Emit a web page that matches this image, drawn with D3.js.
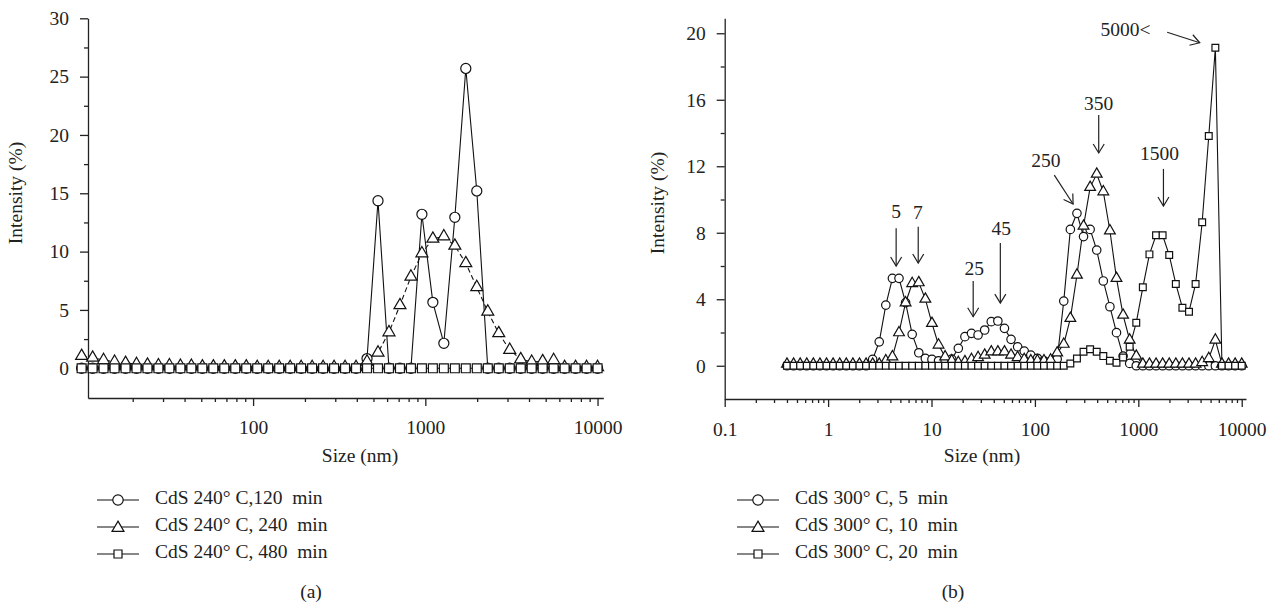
<!DOCTYPE html>
<html><head><meta charset="utf-8">
<script src="https://cdn.jsdelivr.net/npm/d3@7"></script>
<style>
body{margin:0;background:#fff}
svg{display:block}
text{font-family:"Liberation Serif","Times New Roman",serif;fill:#222}
</style>
</head><body>
<svg id="c" width="1269" height="604"></svg>
<script>
// ---- data ----
const sizesNm = [0.4, 0.4632, 0.5365, 0.6213, 0.7195, 0.8332, 0.9649, 1.117, 1.294, 1.499,
  1.736, 2.010, 2.328, 2.696, 3.122, 3.615, 4.187, 4.849, 5.615, 6.503,
  7.531, 8.721, 10.10, 11.70, 13.54, 15.69, 18.17, 21.04, 24.36, 28.21,
  32.67, 37.84, 43.82, 50.75, 58.77, 68.06, 78.82, 91.28, 105.7, 122.4,
  141.8, 164.2, 190.1, 220.2, 255.0, 295.3, 342.0, 396.1, 458.7, 531.2,
  615.1, 712.4, 825.0, 955.4, 1106, 1281, 1484, 1718, 1990, 2305,
  2669, 3091, 3580, 4145, 4801, 5560, 6439, 7456, 8635, 10000];

// panel (a): sizes from 10.1 nm upward
const sizesA = sizesNm.slice(22);
const a120 = [0,0,0,0,0,0,0,0,0,0, 0,0,0,0,0,0,0,0,0,0, 0,0,0,0,0,0,
  0.83,14.36,0,0,0,13.2,5.65,2.14,12.94,25.7,15.2,
  0,0,0,0,0,0,0,0,0,0,0];
const a240 = [1.05,0.9,0.7,0.55,0.45,0.35,0.3,0.25,0.25,0.2,0.2,0.15,0.15,0.15,0.15,0.15,
  0.1,0.1,0.1,0.1,0.1,0.1,0.1,0.1,0.1,0.1,
  0.57,1.34,3.08,5.4,7.85,9.85,11.1,11.3,10.5,9.0,6.95,4.85,3.0,1.57,0.77,0.55,0.6,0.7,
  0.1,0.1,0.1,0.1];
const a480 = [0,0,0,0,0,0,0,0,0,0, 0,0,0,0,0,0,0,0,0,0, 0,0,0,0,0,0,0,0,0,0,
  0,0,0,0,0,0,0,0,0,0, 0,0,0,0,0,0,0,0];

// panel (b)
const b5 = [0,0,0,0,0,0,0,0,0,0,0,0,0,
  0.38,1.44,3.65,5.26,5.26,3.8,1.89,0.78,0.44,0.38,0.3,0.3,0.4,1.05,1.75,1.95,1.85,2.15,
  2.65,2.69,2.25,1.59,1.14,0.88,0.64,0.45,0.3,0.25,0.4,3.89,8.2,9.17,7.77,8.2,6.96,5.1,
  3.55,1.99,0.58,0.14,
  0,0,0,0,0,0,0,0,0,0,0,0,0,0,0,0,0];
const b10 = [0.1,0.1,0.1,0.1,0.1,0.1,0.1,0.1,0.1,0.1,0.1,0.1,0.1,0.1,0.1,
  0.3,0.54,1.99,3.79,4.95,5.0,4.01,2.55,1.25,0.54,0.3,0.2,0.25,0.38,0.5,0.64,0.84,0.84,
  0.84,0.64,0.5,0.38,0.3,0.3,0.3,0.35,0.78,1.3,2.85,5.46,8.4,10.73,11.53,10.47,8.12,5.26,
  3.05,1.55,0.58,
  0.1,0.1,0.1,0.1,0.1,0.1,0.1,0.1,0.1,0.2,0.44,1.55,0.1,0.1,0.1,0.1];
const b20 = [0,0,0,0,0,0,0,0,0,0, 0,0,0,0,0,0,0,0,0,0, 0,0,0,0,0,0,0,0,0,0,
  0,0,0,0,0,0,0,0,0,0, 0,0,0,
  0.14,0.44,0.84,0.99,0.84,0.58,0.3,0.18,0.5,1.14,2.59,4.72,6.7,7.85,7.85,6.66,4.92,3.49,
  3.25,4.92,8.63,13.82,19.13,0,0,0,0];

const legendA = ["CdS 240° C,120  min", "CdS 240° C, 240  min", "CdS 240° C, 480  min"];
const legendB = ["CdS 300° C, 5  min", "CdS 300° C, 10  min", "CdS 300° C, 20  min"];

const ticksXA = [100, 1000, 10000];
const ticksXB = [0.1, 1, 10, 100, 1000, 10000];
const ticksYA = [0, 5, 10, 15, 20, 25, 30];
const ticksYB = [0, 4, 8, 12, 16, 20];

// annotations in data units: label, text(size,value), arrow from (size,value) to (size,value)
const notes = [
  {t:"5",    tx:4.55, ty:9.17, x1:4.55, y1:8.27, x2:4.55, y2:6.0},
  {t:"7",    tx:7.38, ty:9.07, x1:7.44, y1:8.36, x2:7.44, y2:6.18},
  {t:"25",   tx:25.9, ty:5.72, x1:25.3, y1:5.10, x2:25.3, y2:2.95},
  {t:"45",   tx:47.3, ty:8.16, x1:46.3, y1:7.38, x2:46.3, y2:3.77},
  {t:"250",  tx:128,  ty:12.21, x1:154, y1:11.47, x2:234, y2:9.73},
  {t:"350",  tx:414,  ty:15.63, x1:414, y1:15.08, x2:414, y2:12.8},
  {t:"1500", tx:1600, ty:12.62, x1:1750, y1:11.84, x2:1750, y2:9.61},
  {t:"5000<",tx:430,  ty:20.1, x1:1901, y1:20.06, x2:3926, y2:19.43}
];

// ---- drawing ----
const FS = 19.5;
const svg = d3.select("#c");
const defs = svg.append("defs");
defs.append("marker").attr("id","arr").attr("viewBox","-10 -7 12 14")
  .attr("refX",0).attr("refY",0).attr("markerWidth",12).attr("markerHeight",14)
  .attr("markerUnits","userSpaceOnUse").attr("orient","auto")
  .append("path").attr("d","M-9,-5.5L0,0L-9,5.5").attr("fill","none")
  .attr("stroke","#222").attr("stroke-width",1.2);

const fmt = d3.format("~g");
const minorOf = (lo, hi) => {
  const out = [];
  for (let e = lo; e < hi; e++) for (let k = 2; k <= 9; k++) out.push(k * Math.pow(10, e));
  return out;
};

function styleAxis(g) {
  g.attr("color", "#222");
  g.selectAll("path,line").attr("stroke-width", 1.3);
  g.selectAll("text").attr("font-size", FS).attr("font-family", '"Liberation Serif","Times New Roman",serif').attr("fill","#222");
}

function panel(o) {
  const g = svg.append("g");
  // x axis
  g.append("g").attr("transform", `translate(0,${o.xAxisY})`)
    .call(d3.axisBottom(o.x).tickValues(o.xMaj).tickSize(8).tickSizeOuter(0).tickPadding(o.xPad).tickFormat(fmt))
    .call(styleAxis);
  g.append("g").attr("transform", `translate(0,${o.xAxisY})`)
    .call(d3.axisBottom(o.x).tickValues(o.xMin).tickSize(4).tickFormat(""))
    .call(s => s.select(".domain").remove()).call(styleAxis);
  // y axis
  g.append("g").attr("transform", `translate(${o.yAxisX},0)`)
    .call(d3.axisLeft(o.y).tickValues(o.yMaj).tickSize(8).tickSizeOuter(0).tickPadding(11))
    .call(styleAxis);
  g.append("g").attr("transform", `translate(${o.yAxisX},0)`)
    .call(d3.axisLeft(o.y).tickValues(o.yMin).tickSize(4).tickFormat(""))
    .call(s => s.select(".domain").remove()).call(styleAxis);
  g.append("line").attr("x1", o.yAxisX).attr("x2", o.yAxisX)
    .attr("y1", o.y.range()[0]).attr("y2", o.xAxisY).attr("stroke","#222").attr("stroke-width",1.3);

  // labels
  g.append("text").attr("x", o.xLabelX).attr("y", o.xLabelY).attr("text-anchor","middle")
    .attr("dominant-baseline","middle").attr("font-size",FS).text("Size (nm)");
  g.append("text").attr("transform", `translate(${o.yLabelX},${o.yLabelY}) rotate(-90)`)
    .attr("text-anchor","middle").attr("dominant-baseline","middle").attr("font-size",FS).text("Intensity (%)");
  g.append("text").attr("x", o.capX).attr("y", 594).attr("text-anchor","middle")
    .attr("dominant-baseline","middle").attr("font-size",FS).text(o.cap);

  const shapes = [d3.symbolCircle, d3.symbolTriangle, d3.symbolSquare];
  o.series.forEach((vals, i) => {
    const pts = vals.map((v, k) => ({s: o.sizes[k], v}));
    const line = d3.line().x(d => o.x(d.s)).y(d => o.y(d.v));
    g.append("path").datum(pts).attr("d", line).attr("fill","none")
      .attr("stroke","#111").attr("stroke-width",1.1)
      .attr("stroke-dasharray", o.dash[i] || null);
  });
  o.series.forEach((vals, i) => {
    const pts = vals.map((v, k) => ({s: o.sizes[k], v}));
    const sym = d3.symbol().type(shapes[i]).size(o.symSize[i]);
    g.selectAll(null).data(pts).enter().append("path")
      .attr("d", sym)
      .attr("transform", d => `translate(${o.x(d.s)},${o.y(d.v)})`)
      .attr("fill","#fff").attr("stroke","#111").attr("stroke-width",1.2);
  });

  // legend
  o.legend.forEach((t, i) => {
    const yy = 500 + i * 27;
    g.append("line").attr("x1", o.legX).attr("x2", o.legX + 42).attr("y1", yy).attr("y2", yy)
      .attr("stroke","#111").attr("stroke-width",1.2);
    g.append("path").attr("d", d3.symbol().type(shapes[i]).size(o.legSym[i]))
      .attr("transform", `translate(${o.legX + 21},${yy + (i===1 ? 1 : 0)})`)
      .attr("fill","#fff").attr("stroke","#111").attr("stroke-width",1.2);
    g.append("text").attr("x", o.legX + 58).attr("y", yy).attr("dominant-baseline","middle")
      .attr("font-size",FS).style("white-space","pre").text(t);
  });
  return g;
}

const xA = d3.scaleLog().domain([11, 10800]).range([88, 603.3]);
const yA = d3.scaleLinear().domain([-2.55, 30]).range([398, 18.3]);
panel({
  x: xA, y: yA, xAxisY: 398, yAxisX: 88, xPad: 14,
  xMaj: ticksXA, xMin: minorOf(1, 4).filter(v => v >= 20),
  yMaj: ticksYA, yMin: [2.5, 7.5, 12.5, 17.5, 22.5, 27.5],
  xLabelX: 360, xLabelY: 458, yLabelX: 18, yLabelY: 193, capX: 311, cap: "(a)",
  sizes: sizesA, series: [a120, a240, a480], dash: [null, "5,3", null],
  symSize: [80, 62, 80],
  legend: legendA, legX: 97, legSym: [85, 62, 64]
});

const xB = d3.scaleLog().domain([0.1, 11000]).range([724.7, 1246]);
const yB = d3.scaleLinear().domain([-2, 20.9]).range([399, 18.3]);
const gB = panel({
  x: xB, y: yB, xAxisY: 399, yAxisX: 724.7, xPad: 15,
  xMaj: ticksXB, xMin: minorOf(-1, 4),
  yMaj: ticksYB, yMin: [2, 6, 10, 14, 18],
  xLabelX: 982, xLabelY: 458, yLabelX: 660, yLabelY: 203, capX: 953, cap: "(b)",
  sizes: sizesNm, series: [b5, b10, b20], dash: [null, null, null],
  symSize: [56, 50, 46],
  legend: legendB, legX: 737, legSym: [85, 62, 64]
});

// annotations
notes.forEach(n => {
  gB.append("text").attr("x", xB(n.tx)).attr("y", yB(n.ty))
    .attr("text-anchor", n.t === "5000<" ? "start" : "middle")
    .attr("dominant-baseline","middle").attr("font-size",FS).text(n.t);
  gB.append("line").attr("x1", xB(n.x1)).attr("y1", yB(n.y1)).attr("x2", xB(n.x2)).attr("y2", yB(n.y2))
    .attr("stroke","#222").attr("stroke-width",1.2).attr("marker-end","url(#arr)");
});
</script>
</body></html>
